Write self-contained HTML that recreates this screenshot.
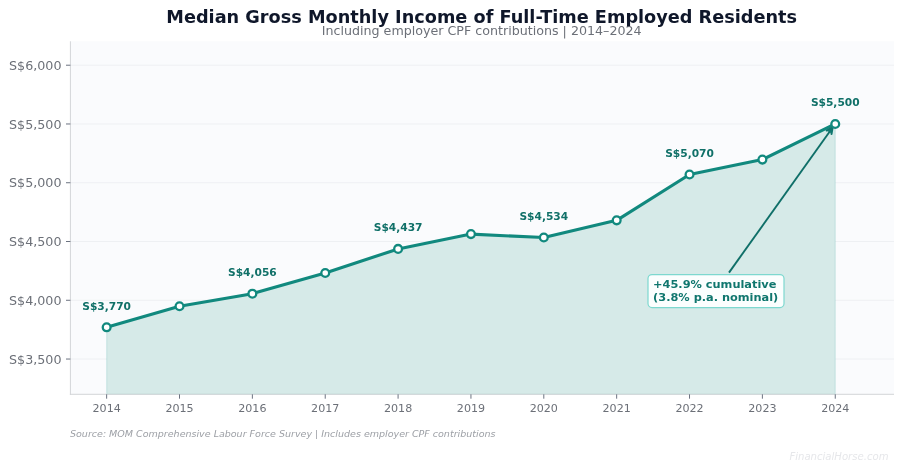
<!DOCTYPE html>
<html lang="en"><head><meta charset="utf-8"><title>Median Gross Monthly Income</title>
<style>
html,body{margin:0;padding:0;background:#fff;}
body{width:902px;height:471px;overflow:hidden;}
svg{display:block;}
text{font-family:"DejaVu Sans","Liberation Sans",sans-serif;}
  .t{font-size:17.7px;font-weight:bold;fill:#0f172a;}
.st{font-size:12.66px;fill:#6c7078;}
.yl{font-size:12.7px;fill:#6c7078;}
.xl{font-size:11.1px;fill:#6c7078;}
.dl{font-size:10.65px;font-weight:bold;fill:#107068;}
.an{font-size:11.33px;font-weight:bold;fill:#0f766e;}
.src{font-size:9.52px;font-style:italic;fill:#9da0a6;}
.wm{font-size:10.1px;font-style:italic;fill:#e6e7ea;}
</style></head><body>
<svg width="902" height="471" viewBox="0 0 902 471">
<rect x="0" y="0" width="902" height="471" fill="#ffffff"/>
<rect x="70.4" y="41.3" width="823.60" height="353.00" fill="#fafbfd"/>

<line x1="70.4" x2="894.0" y1="359.04" y2="359.04" stroke="#eef0f3" stroke-width="1"/>
<line x1="70.4" x2="894.0" y1="300.27" y2="300.27" stroke="#eef0f3" stroke-width="1"/>
<line x1="70.4" x2="894.0" y1="241.51" y2="241.51" stroke="#eef0f3" stroke-width="1"/>
<line x1="70.4" x2="894.0" y1="182.74" y2="182.74" stroke="#eef0f3" stroke-width="1"/>
<line x1="70.4" x2="894.0" y1="123.97" y2="123.97" stroke="#eef0f3" stroke-width="1"/>
<line x1="70.4" x2="894.0" y1="65.21" y2="65.21" stroke="#eef0f3" stroke-width="1"/>
<path d="M106.65,327.31 L179.51,306.27 L252.37,293.69 L325.23,273.01 L398.09,248.91 L470.95,234.10 L543.81,237.51 L616.67,220.35 L689.53,174.51 L762.39,159.59 L835.25,123.97 L835.25,394.3 L106.65,394.3 Z" fill="#d6eae8" stroke="#0d9488" stroke-opacity="0.13" stroke-width="1.2"/>
<line x1="70.4" x2="70.4" y1="41.3" y2="394.8" stroke="#d3d5d8" stroke-width="1"/>
<line x1="69.9" x2="894.0" y1="394.3" y2="394.3" stroke="#d3d5d8" stroke-width="1"/>
<line x1="66.00" x2="70.4" y1="359.04" y2="359.04" stroke="#6b7280" stroke-width="1"/>
<text class="yl" x="61.50" y="363.64" text-anchor="end">S$3,500</text>
<line x1="66.00" x2="70.4" y1="300.27" y2="300.27" stroke="#6b7280" stroke-width="1"/>
<text class="yl" x="61.50" y="304.87" text-anchor="end">S$4,000</text>
<line x1="66.00" x2="70.4" y1="241.51" y2="241.51" stroke="#6b7280" stroke-width="1"/>
<text class="yl" x="61.50" y="246.11" text-anchor="end">S$4,500</text>
<line x1="66.00" x2="70.4" y1="182.74" y2="182.74" stroke="#6b7280" stroke-width="1"/>
<text class="yl" x="61.50" y="187.34" text-anchor="end">S$5,000</text>
<line x1="66.00" x2="70.4" y1="123.97" y2="123.97" stroke="#6b7280" stroke-width="1"/>
<text class="yl" x="61.50" y="128.57" text-anchor="end">S$5,500</text>
<line x1="66.00" x2="70.4" y1="65.21" y2="65.21" stroke="#6b7280" stroke-width="1"/>
<text class="yl" x="61.50" y="69.81" text-anchor="end">S$6,000</text>
<line x1="106.65" x2="106.65" y1="394.3" y2="398.70" stroke="#6b7280" stroke-width="1"/>
<text class="xl" x="106.65" y="412" text-anchor="middle">2014</text>
<line x1="179.51" x2="179.51" y1="394.3" y2="398.70" stroke="#6b7280" stroke-width="1"/>
<text class="xl" x="179.51" y="412" text-anchor="middle">2015</text>
<line x1="252.37" x2="252.37" y1="394.3" y2="398.70" stroke="#6b7280" stroke-width="1"/>
<text class="xl" x="252.37" y="412" text-anchor="middle">2016</text>
<line x1="325.23" x2="325.23" y1="394.3" y2="398.70" stroke="#6b7280" stroke-width="1"/>
<text class="xl" x="325.23" y="412" text-anchor="middle">2017</text>
<line x1="398.09" x2="398.09" y1="394.3" y2="398.70" stroke="#6b7280" stroke-width="1"/>
<text class="xl" x="398.09" y="412" text-anchor="middle">2018</text>
<line x1="470.95" x2="470.95" y1="394.3" y2="398.70" stroke="#6b7280" stroke-width="1"/>
<text class="xl" x="470.95" y="412" text-anchor="middle">2019</text>
<line x1="543.81" x2="543.81" y1="394.3" y2="398.70" stroke="#6b7280" stroke-width="1"/>
<text class="xl" x="543.81" y="412" text-anchor="middle">2020</text>
<line x1="616.67" x2="616.67" y1="394.3" y2="398.70" stroke="#6b7280" stroke-width="1"/>
<text class="xl" x="616.67" y="412" text-anchor="middle">2021</text>
<line x1="689.53" x2="689.53" y1="394.3" y2="398.70" stroke="#6b7280" stroke-width="1"/>
<text class="xl" x="689.53" y="412" text-anchor="middle">2022</text>
<line x1="762.39" x2="762.39" y1="394.3" y2="398.70" stroke="#6b7280" stroke-width="1"/>
<text class="xl" x="762.39" y="412" text-anchor="middle">2023</text>
<line x1="835.25" x2="835.25" y1="394.3" y2="398.70" stroke="#6b7280" stroke-width="1"/>
<text class="xl" x="835.25" y="412" text-anchor="middle">2024</text>
<path d="M106.65,327.31 L179.51,306.27 L252.37,293.69 L325.23,273.01 L398.09,248.91 L470.95,234.10 L543.81,237.51 L616.67,220.35 L689.53,174.51 L762.39,159.59 L835.25,123.97" fill="none" stroke="#11897e" stroke-width="3.1" stroke-linejoin="round" stroke-linecap="round"/>
<line x1="729.0" y1="272.6" x2="831.54" y2="128.93" stroke="#0f6f68" stroke-width="1.9"/>
<path d="M831.54,134.09 L832.70,127.30 L826.66,130.60" fill="#0f766e" fill-opacity="0.85" stroke="#0f766e" stroke-width="1.9" stroke-linecap="round" stroke-linejoin="miter"/>
<circle cx="106.65" cy="327.31" r="3.9" fill="#ffffff" stroke="#11897e" stroke-width="2.3"/>
<circle cx="179.51" cy="306.27" r="3.9" fill="#ffffff" stroke="#11897e" stroke-width="2.3"/>
<circle cx="252.37" cy="293.69" r="3.9" fill="#ffffff" stroke="#11897e" stroke-width="2.3"/>
<circle cx="325.23" cy="273.01" r="3.9" fill="#ffffff" stroke="#11897e" stroke-width="2.3"/>
<circle cx="398.09" cy="248.91" r="3.9" fill="#ffffff" stroke="#11897e" stroke-width="2.3"/>
<circle cx="470.95" cy="234.10" r="3.9" fill="#ffffff" stroke="#11897e" stroke-width="2.3"/>
<circle cx="543.81" cy="237.51" r="3.9" fill="#ffffff" stroke="#11897e" stroke-width="2.3"/>
<circle cx="616.67" cy="220.35" r="3.9" fill="#ffffff" stroke="#11897e" stroke-width="2.3"/>
<circle cx="689.53" cy="174.51" r="3.9" fill="#ffffff" stroke="#11897e" stroke-width="2.3"/>
<circle cx="762.39" cy="159.59" r="3.9" fill="#ffffff" stroke="#11897e" stroke-width="2.3"/>
<circle cx="835.25" cy="123.97" r="3.9" fill="#ffffff" stroke="#11897e" stroke-width="2.3"/>
<text class="dl" x="106.65" y="309.61" text-anchor="middle">S$3,770</text>
<text class="dl" x="252.37" y="275.99" text-anchor="middle">S$4,056</text>
<text class="dl" x="398.09" y="231.21" text-anchor="middle">S$4,437</text>
<text class="dl" x="543.81" y="219.81" text-anchor="middle">S$4,534</text>
<text class="dl" x="689.53" y="156.81" text-anchor="middle">S$5,070</text>
<text class="dl" x="835.25" y="106.27" text-anchor="middle">S$5,500</text>
<rect x="648" y="274.6" width="136" height="33" rx="4" ry="4" fill="#fbfefe" stroke="#7dd8cf" stroke-width="1.2"/>
<text class="an" x="653.1" y="287.7">+45.9% cumulative</text>
<text class="an" x="653.1" y="300.6">(3.8% p.a. nominal)</text>
<text class="t" x="481.7" y="22.7" text-anchor="middle">Median Gross Monthly Income of Full-Time Employed Residents</text>
<text class="st" x="481.7" y="34.8" text-anchor="middle">Including employer CPF contributions | 2014–2024</text>
<text class="src" x="70" y="436.8">Source: MOM Comprehensive Labour Force Survey | Includes employer CPF contributions</text>
<text class="wm" x="888.5" y="459.6" text-anchor="end">FinancialHorse.com</text>
</svg></body></html>
